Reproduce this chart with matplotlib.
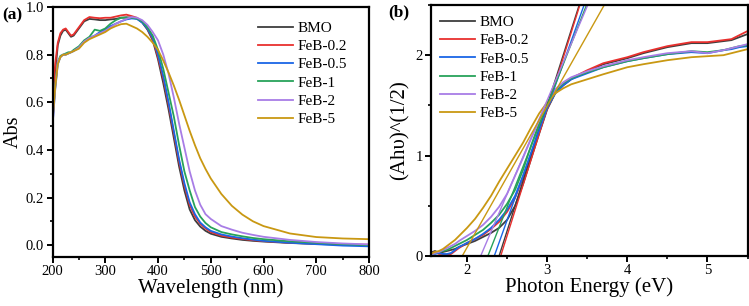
import matplotlib
matplotlib.use("Agg")
import matplotlib.pyplot as plt
from matplotlib.ticker import MultipleLocator, FormatStrFormatter

plt.rcParams['font.family'] = ['Liberation Serif', 'DejaVu Serif']

labels = ["BMO", "FeB-0.2", "FeB-0.5", "FeB-1", "FeB-2", "FeB-5"]
colors = ["#3e3e3e", "#e8302e", "#1a66e6", "#27a25a", "#a87de6", "#c99812"]

# ---------- panel (a): absorbance vs wavelength ----------
wl = [200, 205, 210, 215, 220, 225, 230, 235, 240, 250, 260, 270, 280, 290, 300,
      310, 320, 330, 340, 350, 360, 370, 380, 390, 400, 410, 420, 430, 440, 450,
      460, 470, 480, 490, 500, 520, 540, 560, 580, 600, 650, 700, 750, 800]

abs_bmo = [0.55, 0.72, 0.84, 0.88, 0.90, 0.905, 0.89, 0.875, 0.88, 0.91, 0.94, 0.95, 0.948, 0.945, 0.945,
           0.948, 0.95, 0.955, 0.957, 0.955, 0.952, 0.935, 0.905, 0.86, 0.78, 0.68, 0.57, 0.45, 0.33, 0.23,
           0.15, 0.105, 0.078, 0.06, 0.048, 0.035, 0.028, 0.022, 0.018, 0.015, 0.009, 0.005, 0.002, 0.0]
abs_02 = [0.60, 0.76, 0.85, 0.89, 0.905, 0.91, 0.895, 0.88, 0.885, 0.915, 0.945, 0.958, 0.955, 0.953, 0.955,
          0.955, 0.96, 0.965, 0.968, 0.962, 0.955, 0.94, 0.91, 0.865, 0.79, 0.70, 0.59, 0.47, 0.35, 0.25,
          0.17, 0.12, 0.09, 0.07, 0.055, 0.04, 0.032, 0.026, 0.021, 0.017, 0.01, 0.006, 0.003, 0.002]
abs_05 = [0.50, 0.65, 0.76, 0.79, 0.80, 0.80, 0.805, 0.81, 0.815, 0.83, 0.855, 0.87, 0.88, 0.895, 0.905,
          0.92, 0.93, 0.94, 0.948, 0.952, 0.95, 0.935, 0.91, 0.87, 0.80, 0.71, 0.60, 0.48, 0.36, 0.26,
          0.18, 0.13, 0.095, 0.075, 0.06, 0.045, 0.036, 0.029, 0.023, 0.018, 0.01, 0.004, -0.002, -0.005]
abs_1 = [0.52, 0.67, 0.77, 0.795, 0.80, 0.805, 0.81, 0.81, 0.82, 0.835, 0.86, 0.875, 0.905, 0.90, 0.91,
         0.93, 0.945, 0.955, 0.955, 0.955, 0.952, 0.94, 0.915, 0.88, 0.82, 0.74, 0.64, 0.54, 0.42, 0.31,
         0.23, 0.16, 0.12, 0.093, 0.075, 0.055, 0.045, 0.037, 0.03, 0.025, 0.016, 0.01, 0.004, 0.0]
abs_2 = [0.50, 0.66, 0.77, 0.79, 0.80, 0.80, 0.805, 0.81, 0.815, 0.83, 0.855, 0.87, 0.88, 0.89, 0.90,
         0.915, 0.93, 0.94, 0.95, 0.958, 0.955, 0.945, 0.925, 0.895, 0.86, 0.80, 0.72, 0.62, 0.51, 0.41,
         0.31, 0.23, 0.17, 0.13, 0.11, 0.08, 0.065, 0.052, 0.043, 0.035, 0.022, 0.013, 0.007, 0.003]
abs_5 = [0.52, 0.66, 0.76, 0.79, 0.80, 0.80, 0.805, 0.81, 0.815, 0.825, 0.85, 0.865, 0.875, 0.885, 0.895,
         0.91, 0.92, 0.928, 0.93, 0.92, 0.91, 0.895, 0.875, 0.85, 0.82, 0.775, 0.725, 0.67, 0.61, 0.545,
         0.48, 0.42, 0.365, 0.32, 0.28, 0.215, 0.165, 0.128, 0.10, 0.08, 0.049, 0.034, 0.028, 0.025]
abs_series = [abs_bmo, abs_02, abs_05, abs_1, abs_2, abs_5]

# ---------- panel (b): Tauc plot ----------
energy = [1.57, 1.6, 1.65, 1.7, 1.75, 1.8, 1.85, 1.9, 2.0, 2.1, 2.2, 2.3, 2.4, 2.5, 2.6, 2.7, 2.8,
          2.9, 3.0, 3.1, 3.2, 3.3, 3.5, 3.7, 4.0, 4.2, 4.5, 4.8, 5.0, 5.2, 5.3, 5.4, 5.5]

tauc_bmo = [0.04, 0.05, 0.03, 0.04, 0.05, 0.06, 0.07, 0.09, 0.12, 0.15, 0.19, 0.23, 0.28, 0.36, 0.50, 0.72, 0.97,
            1.22, 1.46, 1.62, 1.70, 1.76, 1.84, 1.91, 1.97, 2.02, 2.08, 2.12, 2.12, 2.14, 2.15, 2.18, 2.21]
tauc_02 = [0.03, 0.04, 0.02, 0.02, 0.01, 0.02, 0.05, 0.08, 0.13, 0.17, 0.21, 0.27, 0.34, 0.44, 0.58, 0.78, 1.01,
           1.25, 1.47, 1.63, 1.71, 1.77, 1.85, 1.92, 1.98, 2.03, 2.09, 2.13, 2.13, 2.15, 2.16, 2.20, 2.24]
tauc_05 = [0.03, 0.02, 0.03, 0.02, 0.02, 0.03, 0.06, 0.09, 0.13, 0.17, 0.22, 0.28, 0.36, 0.46, 0.60, 0.80, 1.03,
           1.27, 1.48, 1.62, 1.70, 1.76, 1.82, 1.88, 1.94, 1.97, 2.01, 2.03, 2.02, 2.05, 2.06, 2.08, 2.09]
tauc_1 = [0.02, 0.03, 0.04, 0.05, 0.06, 0.08, 0.10, 0.12, 0.16, 0.21, 0.26, 0.33, 0.41, 0.52, 0.66, 0.86, 1.10,
          1.32, 1.50, 1.64, 1.72, 1.77, 1.83, 1.88, 1.94, 1.97, 2.01, 2.04, 2.03, 2.05, 2.07, 2.09, 2.10]
tauc_2 = [0.02, 0.03, 0.04, 0.06, 0.08, 0.10, 0.12, 0.15, 0.20, 0.25, 0.31, 0.39, 0.49, 0.62, 0.80, 0.98, 1.17,
          1.35, 1.52, 1.66, 1.73, 1.78, 1.84, 1.89, 1.95, 1.98, 2.02, 2.04, 2.02, 2.05, 2.07, 2.09, 2.11]
tauc_5 = [0.03, 0.04, 0.05, 0.07, 0.10, 0.13, 0.16, 0.20, 0.28, 0.37, 0.48, 0.60, 0.74, 0.87, 1.00, 1.13, 1.28,
          1.42, 1.53, 1.62, 1.67, 1.71, 1.76, 1.81, 1.88, 1.91, 1.95, 1.98, 1.99, 2.00, 2.02, 2.04, 2.06]
tauc_series = [tauc_bmo, tauc_02, tauc_05, tauc_1, tauc_2, tauc_5]

# linear fits: x-intercept (band gap, eV) and slope
fit_eg = [2.40, 2.42, 2.34, 2.26, 2.17, 1.94]
fit_slope = [2.50, 2.53, 2.23, 2.03, 1.87, 1.41]

fig = plt.figure(figsize=(7.49, 3.06), dpi=100)
ax1 = fig.add_axes([0.0701, 0.160, 0.4226, 0.817])
ax2 = fig.add_axes([0.5754, 0.1634, 0.4226, 0.8203])

for y, c, lab in zip(abs_series, colors, labels):
    ax1.plot(wl, y, color=c, lw=1.3, label=lab)

for y, c, lab in zip(tauc_series, colors, labels):
    ax2.plot(energy, y, color=c, lw=1.3, label=lab)
for eg, s, c in zip(fit_eg, fit_slope, colors):
    ax2.axline((eg, 0), slope=s, color=c, lw=1.0)

ax1.set_xlim(200, 800)
ax1.set_ylim(-0.05, 1.0)
ax1.xaxis.set_major_locator(MultipleLocator(100))
ax1.xaxis.set_minor_locator(MultipleLocator(50))
ax1.yaxis.set_major_locator(MultipleLocator(0.2))
ax1.yaxis.set_minor_locator(MultipleLocator(0.1))
ax1.yaxis.set_major_formatter(FormatStrFormatter('%.1f'))
ax1.set_xlabel("Wavelength (nm)", fontsize=15, labelpad=0)
ax1.set_ylabel("Abs", fontsize=14.5, labelpad=2)

ax2.set_xlim(1.55, 5.5)
ax2.set_ylim(0, 2.5)
ax2.xaxis.set_major_locator(MultipleLocator(1))
ax2.xaxis.set_minor_locator(MultipleLocator(0.5))
ax2.yaxis.set_major_locator(MultipleLocator(1))
ax2.yaxis.set_minor_locator(MultipleLocator(0.5))
ax2.set_xlabel("Photon Energy (eV)", fontsize=15, labelpad=0)
ax2.set_ylabel("(Ahυ)^(1/2)", fontsize=15, labelpad=4)

for ax in (ax1, ax2):
    for sp in ax.spines.values():
        sp.set_linewidth(1.6)
    ax.tick_params(which='major', direction='out', length=4, width=1.4, labelsize=10.5, pad=2,
                   top=False, right=False)
    ax.tick_params(which='minor', direction='out', length=2.5, width=1.2, top=False, right=False)

ax1.legend(loc='upper left', bbox_to_anchor=(0.62, 0.98), frameon=False, fontsize=11,
           handlelength=2.3, handletextpad=0.3, labelspacing=0.3, borderaxespad=0.2)
ax2.legend(loc='upper left', bbox_to_anchor=(0.0, 0.995), frameon=False, fontsize=11,
           handlelength=2.3, handletextpad=0.3, labelspacing=0.3, borderaxespad=0.2)

fig.text(0.003, 0.975, "(a)", fontsize=12.5, fontweight='bold', va='top', ha='left')
fig.text(0.519, 0.985, "(b)", fontsize=12.5, fontweight='bold', va='top', ha='left')

fig.savefig("out.png", dpi=100)
